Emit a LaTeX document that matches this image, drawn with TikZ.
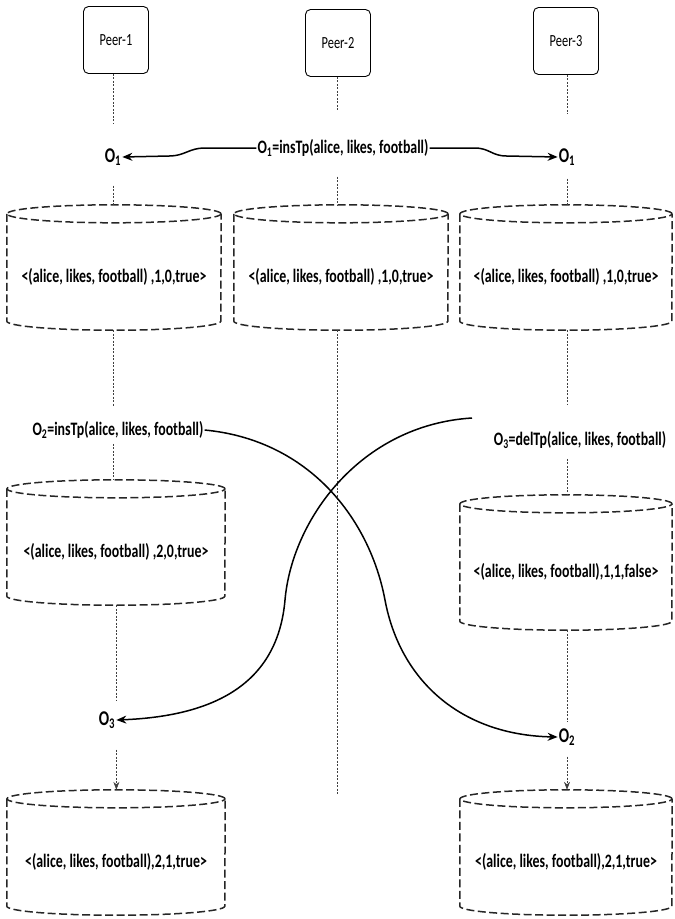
\documentclass[tikz,border=0pt]{standalone}
\usepackage{fontspec}
\usetikzlibrary{arrows.meta}
\newfontfamily\calfont[FakeStretch=0.73]{Carlito}
\newcommand{\dbcyl}[6]{% name, cx, top, bottom, half width, text
  \node[cylbody, minimum width={2*#5pt}, minimum height={(#4-#3-18)*1pt}] (#1) at (#2,{(#3+18+#4)/2}) {#6};
  \draw[cylline] ([yshift=9pt]#1.north west) -- ([yshift=9pt]#1.south west)
     arc[start angle=180, end angle=360, x radius=#5pt, y radius=9pt]
     -- ([yshift=9pt]#1.north east);
  \draw[cylline] ([yshift=9pt]#1.north) ellipse[x radius=#5pt, y radius=9pt];
}
\tikzset{
  peerbox/.style={draw, rounded corners=5pt, minimum width=65pt, minimum height=67pt, line width=0.9pt, font=\calfont\fontsize{17}{20}\selectfont},
  cylbody/.style={inner sep=0pt, font=\calfont\bfseries\fontsize{19}{22}\selectfont},
  cylline/.style={dash pattern=on 8pt off 3.5pt, line width=1.5pt, black!85},
  life/.style={dash pattern=on 2pt off 1.5pt, line width=0.6pt, black!75},
  lifearr/.style={life, -{Stealth[length=8pt,width=6pt]}},
  msg/.style={line width=1.5pt, -{Stealth[length=10pt,width=8pt]}},
  oplbl/.style={inner sep=1pt, font=\calfont\bfseries\fontsize{19}{22}\selectfont},
  olbl/.style={inner sep=1pt, font=\calfont\bfseries\fontsize{21}{24}\selectfont},
}
\begin{document}
\begin{tikzpicture}[x=1pt,y=-1pt]
\useasboundingbox (0,0) rectangle (675,919);
% peers
\node[peerbox] (p1) at (116,40) {Peer-1};
\node[peerbox] (p2) at (338,43) {Peer-2};
\node[peerbox] (p3) at (566,41) {Peer-3};
% first operation
\node[oplbl] (op1) at (343,148) {O\textsubscript{1}=insTp(alice, likes, football)};
\node[olbl] (o1a) at (113,157) {O\textsubscript{1}};
\node[olbl] (o1c) at (567,157) {O\textsubscript{1}};
% cylinders row 1
\dbcyl{c11}{114}{205}{330}{107}{<(alice, likes, football) ,1,0,true>}
\dbcyl{c12}{341}{205}{330}{107}{<(alice, likes, football) ,1,0,true>}
\dbcyl{c13}{566}{205}{330}{106}{<(alice, likes, football) ,1,0,true>}
% second operations
\node[oplbl] (op2) at (118,430) {O\textsubscript{2}=insTp(alice, likes, football)};
\node[oplbl] (op3) at (580,440) {O\textsubscript{3}=delTp(alice, likes, football)};
\dbcyl{c21}{116}{480}{605}{109}{<(alice, likes, football) ,2,0,true>}
\dbcyl{c23}{566}{495}{630}{106}{<(alice, likes, football),1,1,false>}
% received operations
\node[olbl] (o3l) at (107,720) {O\textsubscript{3}};
\node[olbl] (o2r) at (567,737) {O\textsubscript{2}};
\dbcyl{c31}{116}{790}{915}{109}{<(alice, likes, football),2,1,true>}
\dbcyl{c33}{566}{790}{915}{106}{<(alice, likes, football),2,1,true>}
\coordinate (p2end) at (337,795);
\coordinate (b0) at (472,418);
% lifelines peer 1
\draw[life, shorten >=24pt] (p1.south -| o1a) -- (o1a.north);
\draw[life, shorten <=19pt] (o1a.south) -- ([yshift=18pt]c11.north -| o1a);
\draw[life, shorten >=14pt] (c11.south -| o1a) -- (op2.north -| o1a);
\draw[life, shorten <=4pt] (op2.south -| o1a) -- ([yshift=18pt]c21.north -| o1a);
\draw[life, shorten >=9pt] (c21.south -| o3l.north east) -- (o3l.north -| o3l.north east);
\draw[lifearr, shorten <=20pt] (o3l.south -| o3l.north east) -- ([yshift=18pt]c31.north -| o3l.north east);
% lifelines peer 2
\draw[life, shorten >=27pt] (p2.south -| p2end) -- (op1.north -| p2end);
\draw[life, shorten <=19pt] (op1.south -| p2end) -- ([yshift=18pt]c12.north -| p2end);
\draw[life] (c12.south -| p2end) -- (p2end);
% lifelines peer 3
\draw[life, shorten >=33pt] (p3.south -| o1c) -- (o1c.north);
\draw[life, shorten <=12pt] (o1c.south) -- ([yshift=18pt]c13.north -| o1c);
\draw[life, shorten >=26pt] (c13.south -| o1c) -- (op3.north -| o1c);
\draw[life, shorten <=9pt] (op3.south -| o1c) -- ([yshift=18pt]c23.north -| o1c);
\draw[life, shorten >=6pt] (c23.south -| o1c) -- (o2r.north -| o1c);
\draw[lifearr, shorten <=10pt] (o2r.south -| o1c) -- ([yshift=18pt]c33.north -| o1c);
% messages
\draw[msg] (op1.west) -- ++(-52,0) .. controls +(-15,0) and +(15,0) .. ++(-35,8) -- (o1a.east);
\draw[msg] (op1.east) -- ++(45,0) .. controls +(15,0) and +(-15,0) .. ++(32,8) -- (o1c.west);
\draw[msg] (op2.east) .. controls (310,440) and (370,520) .. (385,600)
   .. controls (400,680) and (460,735) .. (o2r.west);
\draw[msg] (b0) .. controls (360,425) and (292,520) .. (285,600)
   .. controls (278,680) and (220,716) .. (o3l.east);
\end{tikzpicture}
\end{document}
